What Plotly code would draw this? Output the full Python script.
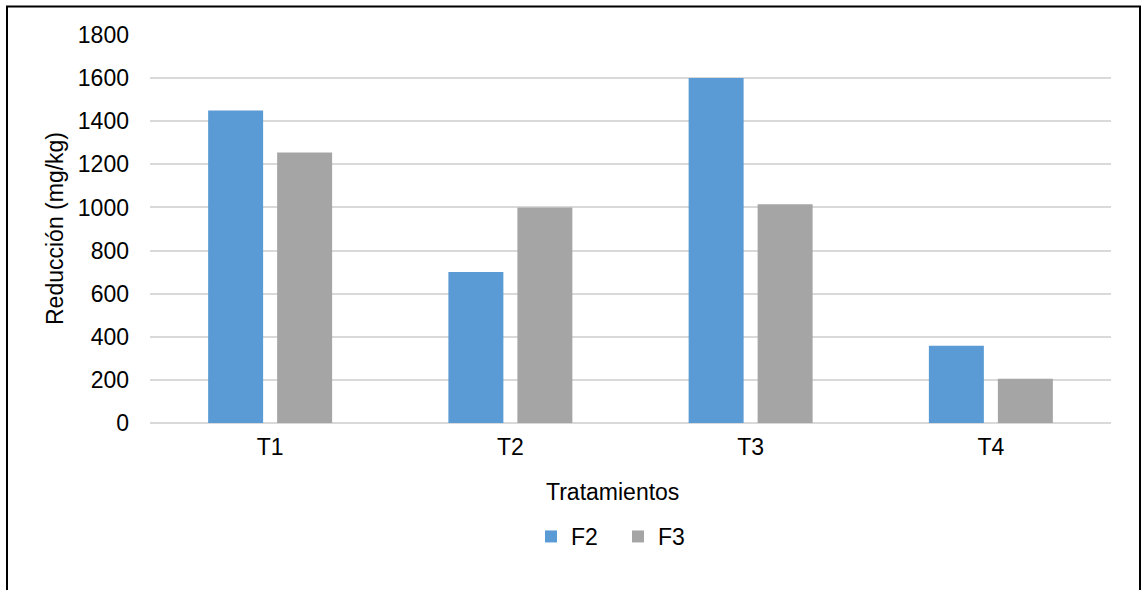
import plotly.graph_objects as go

# Data
categories = ["T1", "T2", "T3", "T4"]
f2_values = [1450, 700, 1600, 358]
f3_values = [1255, 1000, 1015, 205]
y_ticks = [0, 200, 400, 600, 800, 1000, 1200, 1400, 1600, 1800]

W, H = 1141, 590
L, R, T, B = 150, 30, 35, 167
plot_w = W - L - R
plot_h = H - T - B


def px_x(px):
    return (px - L) / plot_w


def px_y(py):
    return (H - B - py) / plot_h


FONT = "Liberation Sans, Arial, sans-serif"

fig = go.Figure()
fig.add_trace(go.Bar(name="F2", x=categories, y=f2_values,
                     marker=dict(color="#5B9BD5", line=dict(width=0))))
fig.add_trace(go.Bar(name="F3", x=categories, y=f3_values,
                     marker=dict(color="#A5A5A5", line=dict(width=0))))

fig.update_layout(
    width=W, height=H,
    margin=dict(l=L, r=R, t=T, b=B, autoexpand=False),
    paper_bgcolor="white", plot_bgcolor="white",
    font=dict(family=FONT, size=23, color="#000000"),
    barmode="group", bargap=0.4256, bargroupgap=0.203,
    showlegend=True,
    legend=dict(orientation="h", x=px_x(618), xanchor="center",
                y=px_y(536.5), yanchor="middle",
                font=dict(size=23), entrywidth=42, entrywidthmode="pixels",
                bgcolor="rgba(0,0,0,0)"),
    xaxis=dict(showgrid=False, showline=False, zeroline=False,
               ticks="", ticklabelstandoff=8, tickfont=dict(size=23)),
    yaxis=dict(range=[0, 1800], tickvals=y_ticks, showgrid=True,
               gridcolor="#D9D9D9", gridwidth=1.5, zeroline=True,
               zerolinecolor="#D9D9D9", zerolinewidth=1.5, showline=False,
               ticks="", ticklabelstandoff=20, tickfont=dict(size=23)),
    annotations=[
        dict(text="Tratamientos", xref="paper", yref="paper",
             x=px_x(612), y=px_y(492), xanchor="center", yanchor="middle",
             showarrow=False, font=dict(size=23)),
        dict(text="Reducción (mg/kg)", xref="paper", yref="paper",
             x=px_x(55), y=0.5, xanchor="center", yanchor="middle",
             textangle=-90, showarrow=False, font=dict(size=23)),
    ],
    shapes=[
        dict(type="rect", xref="paper", yref="paper",
             x0=px_x(7), x1=px_x(1140), y0=px_y(620), y1=px_y(6.5),
             line=dict(color="#000000", width=2), fillcolor="rgba(0,0,0,0)",
             layer="below"),
    ],
)

fig.write_html("out.html")
